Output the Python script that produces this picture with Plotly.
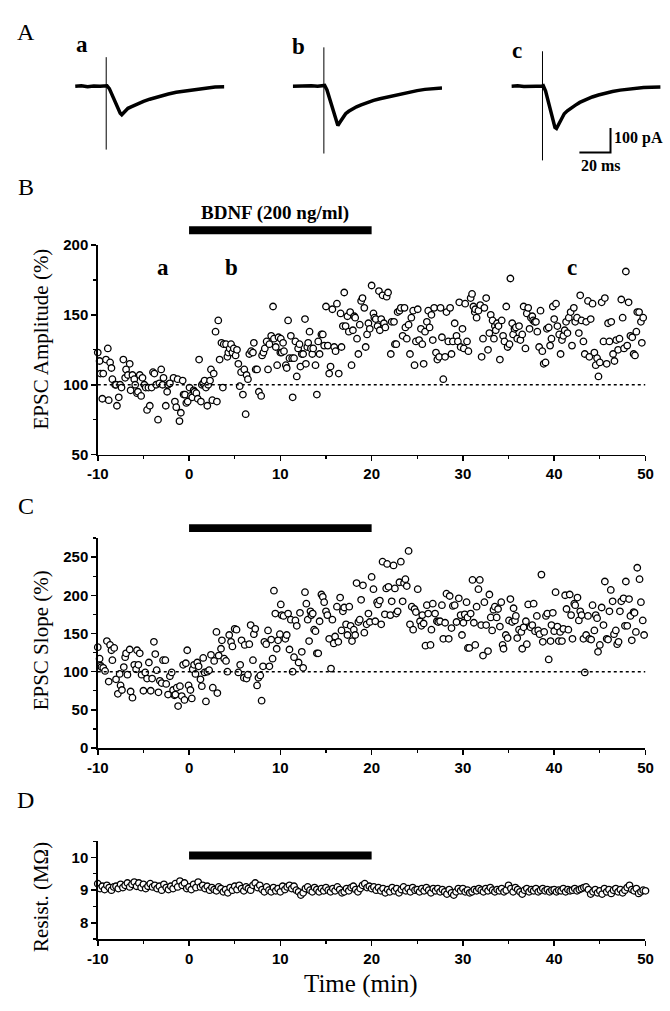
import plotly.graph_objects as go

# ---------------- DATA ----------------
# Panel A: EPSC traces (time in ms, current in pA)
trace_t = [0, 4, 8, 12, 16, 19.5, 20.5, 22, 24, 26, 28, 29, 30, 32, 34, 36, 38, 41, 44, 48,
           52, 56, 60, 65, 70, 75, 80, 85, 90, 96]
trace_a = [0, 2, -2, 1, 0, 0, 2, -10, -40, -72, -100, -110, -116, -102, -90, -84, -78, -70, -62, -53,
           -45, -38, -32, -25, -20, -15, -10, -6, -3, -2]
trace_b = [0, 1, -1, 2, 0, 0, 3, -15, -55, -100, -145, -160, -150, -128, -112, -102, -94, -84, -76, -66,
           -58, -51, -45, -37, -30, -24, -18, -13, -9, -7]
trace_c = [0, 2, -1, 1, 0, 0, 2, -20, -70, -125, -168, -172, -160, -130, -112, -100, -90, -78, -66, -54,
           -44, -36, -29, -22, -16, -12, -8, -5, -4, -3]
stim_t = 20
artifact_a = [118, -258]
artifact_b = [158, -274]
artifact_c = [142, -302]
scale_ms = 20
scale_pa = 100
scale_t0 = 43.75
scale_i0 = -270

# Panel B: EPSC amplitude (%)
time_b = [
    -10, -9.8, -9.7, -9.5, -9.4, -9.1, -8.9, -8.8, -8.65, -8.5,
    -8.4, -8.1, -8.0, -7.9, -7.7, -7.55, -7.4, -7.2, -7.0, -6.9,
    -6.7, -6.5, -6.4, -6.2, -6.0, -5.9, -5.7, -5.6, -5.4, -5.25,
    -5.1, -4.9, -4.75, -4.6, -4.45, -4.3, -4.1, -3.95, -3.8, -3.6,
    -3.4, -3.25, -3.05, -2.9, -2.8, -2.55, -2.4, -2.3, -2.1, -1.7,
    -1.55, -1.4, -1.25, -1.05, -0.9, -0.7, -0.6, -0.45, -0.3, -0.15,
    0.05, 0.2, 0.35, 0.5, 0.6, 0.8, 0.95, 1.1, 1.3, 1.4,
    1.55, 1.7, 1.85, 2.0, 2.1, 2.3, 2.4, 2.55, 2.7, 2.9,
    3.05, 3.2, 3.35, 3.55, 3.7, 3.8, 4.05, 4.2, 4.3, 4.45,
    4.6, 4.75, 4.9, 5.1, 5.25, 5.4, 5.55, 5.7, 5.9, 6.05,
    6.2, 6.3, 6.45, 6.6, 6.8, 7.0, 7.1, 7.3, 7.45, 7.65,
    7.9, 8.0, 8.15, 8.3, 8.5, 8.65, 8.8, 9.0, 9.2, 9.3,
    9.5, 9.65, 9.8, 10.0,
    10.05, 10.15, 10.3, 10.4, 10.6, 10.7, 10.85, 11.0, 11.15, 11.3,
    11.35, 11.5, 11.65, 11.8, 11.95, 12.1, 12.2, 12.35, 12.5, 12.7,
    12.8, 12.95, 13.05, 13.2, 13.35, 13.5, 13.6, 13.85, 14.0, 14.15,
    14.3, 14.5, 14.65, 14.8, 15.0, 15.2, 15.35, 15.5, 15.7, 15.9,
    16.05, 16.2, 16.4, 16.6, 16.7, 16.85, 17.0, 17.15, 17.35, 17.5,
    17.65, 17.8, 17.95, 18.1, 18.2, 18.4, 18.55, 18.7, 18.85, 19.0,
    19.2, 19.35, 19.5, 19.65, 19.8, 20.0, 20.2, 20.3, 20.45, 20.65,
    20.8, 20.9, 21.05, 21.2, 21.35, 21.5, 21.65, 21.8, 22.1, 22.2,
    22.45, 22.55, 22.7, 22.85, 23.05, 23.2, 23.4, 23.6, 23.7, 23.85,
    24.05, 24.2, 24.35, 24.55, 24.7, 24.85, 25.05, 25.2, 25.4, 25.55,
    25.7, 25.85, 26.05, 26.2, 26.35, 26.55, 26.7, 26.85, 27.05, 27.2,
    27.4, 27.55, 27.7, 27.85, 28.05, 28.2, 28.4, 28.6, 28.75, 28.9,
    29.1, 29.3, 29.45, 29.6, 29.75, 29.95, 30.1, 30.25, 30.45, 30.6,
    30.85, 31.0, 31.15, 31.3, 31.35, 31.5, 31.7, 31.9, 32.05, 32.2,
    32.35, 32.55, 32.75, 32.9, 33.05, 33.25, 33.4, 33.5, 33.6, 33.75,
    33.9, 34.05, 34.25, 34.4, 34.55, 34.75, 34.9, 35.1, 35.2, 35.4,
    35.5, 35.65, 35.8, 35.95, 36.15, 36.3, 36.5, 36.65, 36.85, 37.0,
    37.15, 37.3, 37.45, 37.6, 37.7, 37.85, 38.0, 38.15, 38.35, 38.5,
    38.7, 38.85, 39.05, 39.2, 39.4, 39.55, 39.7, 39.85, 40.0, 40.2,
    40.35, 40.55, 40.7, 40.85, 41.0, 41.15, 41.3, 41.45, 41.6, 41.8,
    41.95, 42.15, 42.3, 42.5, 42.7, 42.85, 43.0, 43.2, 43.35, 43.5,
    43.7, 43.85, 44.0, 44.2, 44.4, 44.55, 44.7, 44.85, 45.0, 45.2,
    45.4, 45.55, 45.75, 45.9, 46.05, 46.25, 46.45, 46.6, 46.8, 47.0,
    47.15, 47.35, 47.5, 47.65, 47.85, 48.0, 48.15, 48.35, 48.55, 48.7,
    48.85, 49.0, 49.1, 49.3, 49.5, 49.6, 49.75,
]
amp_b = [
    123, 117, 108, 90, 108, 118, 126, 89, 116, 112,
    104, 100, 100, 85, 91, 100, 98, 118, 105, 111,
    107, 115, 96, 107, 104, 100, 94, 95, 107, 92,
    105, 100, 98, 82, 98, 85, 98, 109, 108, 100,
    75, 101, 111, 100, 105, 85, 95, 100, 101, 105,
    88, 84, 104, 74, 80, 103, 93, 93, 87, 88,
    98, 92, 91, 96, 95, 94, 90, 118, 88, 100,
    101, 103, 98, 85, 100, 103, 111, 89, 108, 138,
    88, 146, 118, 130, 98, 129, 129, 120, 123, 126,
    129, 123, 126, 121, 125, 115, 99, 109, 93, 111,
    79, 107, 104, 122, 124, 123, 130, 111, 111, 95,
    92, 121, 123, 126, 131, 111, 129, 135, 156, 133,
    127, 114, 134, 123,
    133, 123, 130, 124, 114, 112, 146, 119, 135, 119,
    91, 119, 131, 106, 126, 129, 113, 122, 122, 147,
    115, 127, 130, 138, 126, 122, 126, 114, 93, 131,
    122, 136, 136, 128, 156, 128, 108, 113, 154, 127,
    124, 158, 108, 151, 127, 142, 166, 142, 149, 138,
    152, 114, 139, 149, 148, 133, 122, 143, 160, 162,
    155, 127, 136, 144, 140, 171, 151, 148, 147, 142,
    167, 139, 147, 164, 144, 141, 163, 166, 122, 145,
    145, 129, 129, 152, 153, 155, 135, 155, 141, 133,
    143, 122, 148, 153, 114, 131, 154, 132, 140, 129,
    115, 138, 145, 153, 141, 150, 132, 155, 123, 118,
    120, 155, 134, 104, 120, 152, 131, 155, 122, 131,
    144, 135, 131, 159, 127, 140, 126, 158, 131, 124,
    162, 165, 156, 152, 154, 148, 153, 157, 120, 133,
    155, 162, 125, 137, 150, 146, 133, 142, 139, 144,
    142, 118, 146, 135, 131, 156, 127, 129, 176, 144,
    136, 140, 141, 133, 142, 132, 136, 156, 126, 151,
    155, 140, 148, 149, 146, 145, 145, 138, 127, 153,
    124, 115, 116, 140, 141, 128, 133, 156, 147, 158,
    142, 136, 122, 132, 135, 139, 145, 137, 148, 152,
    128, 155, 145, 148, 137, 164, 146, 131, 122, 145,
    160, 120, 147, 158, 123, 114, 119, 106, 116, 159,
    131, 162, 115, 144, 131, 145, 122, 117, 132, 125,
    133, 161, 148, 126, 181, 128, 159, 135, 134, 122,
    121, 138, 152, 152, 145, 130, 148,
]

# Panel C: EPSC slope (%)
time_c = [
    -10, -9.8, -9.7, -9.6, -9.4, -9.2, -9.0, -8.8, -8.65, -8.5,
    -8.4, -8.2, -8.0, -7.8, -7.6, -7.5, -7.35, -7.15, -7.0, -6.9,
    -6.75, -6.5, -6.4, -6.2, -6.0, -5.8, -5.7, -5.55, -5.4, -5.2,
    -5.0, -4.8, -4.6, -4.4, -4.2, -4.05, -3.85, -3.7, -3.55, -3.35,
    -3.2, -3.0, -2.85, -2.6, -2.5, -2.3, -2.1, -1.9, -1.75, -1.6,
    -1.5, -1.35, -1.2, -1.0, -0.8, -0.65, -0.5, -0.35, -0.2, -0.05,
    0.15, 0.3, 0.4, 0.55, 0.7, 0.9, 1.05, 1.25, 1.4, 1.55,
    1.7, 1.85, 2.0, 2.2, 2.4, 2.6, 2.75, 3.0, 3.1, 3.25,
    3.5, 3.6, 3.85, 4.05, 4.2, 4.4, 4.6, 4.75, 5.0, 5.2,
    5.4, 5.6, 5.75, 6.0, 6.1, 6.3, 6.45, 6.6, 6.75, 7.0,
    7.1, 7.25, 7.45, 7.6, 7.8, 7.95, 8.1, 8.25, 8.45, 8.65,
    8.8, 9.0, 9.15, 9.3, 9.45, 9.6, 9.75, 9.95, 10.05, 10.15,
    10.35, 10.55, 10.7, 10.85, 11.0, 11.15, 11.35, 11.5, 11.65, 11.8,
    12.0, 12.15, 12.35, 12.5, 12.7, 12.85, 13.0, 13.15, 13.3, 13.4,
    13.55, 13.7, 13.85, 14.0, 14.15, 14.3, 14.5, 14.65, 14.8, 15.0,
    15.15, 15.35, 15.55, 15.7, 15.85, 16.0, 16.2, 16.35, 16.55, 16.7,
    16.85, 17.0, 17.2, 17.35, 17.55, 17.7, 17.85, 18.05, 18.2, 18.35,
    18.55, 18.7, 18.85, 19.05, 19.2, 19.45, 19.65, 19.8, 20.0, 20.2,
    20.4, 20.6, 20.7, 20.9, 21.05, 21.2, 21.45, 21.6, 21.7, 21.85,
    22.05, 22.2, 22.4, 22.55, 22.7, 22.85, 23.05, 23.2, 23.4, 23.55,
    23.7, 23.85, 24.05, 24.2, 24.4, 24.55, 24.7, 24.85, 25.05, 25.3,
    25.45, 25.55, 25.7, 25.9, 26.05, 26.2, 26.45, 26.55, 26.7, 26.95,
    27.15, 27.3, 27.5, 27.7, 27.85, 28.05, 28.2, 28.45, 28.55, 28.75,
    28.9, 29.1, 29.3, 29.55, 29.75, 29.9, 30.05, 30.2, 30.4, 30.5,
    30.55,
    30.7, 30.85, 31.05, 31.2, 31.35, 31.5, 31.7, 31.85, 32.0, 32.2,
    32.35, 32.55, 32.75, 32.9, 33.05, 33.2, 33.35, 33.5, 33.7, 33.85,
    34.05, 34.2, 34.35, 34.45, 34.7, 34.9, 35.05, 35.2, 35.4, 35.55,
    35.7, 35.8, 35.95, 36.15, 36.4, 36.5, 36.65, 36.9, 37.0, 37.15,
    37.4, 37.6, 37.75, 37.9, 38.1, 38.25, 38.4, 38.6, 38.75, 38.9,
    39.1, 39.25, 39.4, 39.6, 39.7, 39.85, 40.0, 40.15, 40.35, 40.5,
    40.65, 40.85, 41.0, 41.2, 41.35, 41.55, 41.7, 41.85, 42.0, 42.2,
    42.3, 42.55, 42.7, 42.85, 43.0, 43.2, 43.35, 43.5, 43.7, 43.85,
    44.05, 44.2, 44.4, 44.55, 44.7, 44.8, 45.0, 45.2, 45.4, 45.55,
    45.75, 45.9, 46.05, 46.2, 46.4, 46.55, 46.75, 46.9, 47.05, 47.2,
    47.35, 47.6, 47.75, 47.85, 48.0, 48.2, 48.35, 48.5, 48.7, 48.8,
    48.95, 49.1, 49.35, 49.5, 49.7, 49.85,
]
slope_c = [
    132, 117, 108, 106, 105, 101, 140, 87, 135, 128,
    115, 131, 90, 71, 97, 82, 76, 106, 119, 124,
    96, 129, 74, 66, 109, 103, 128, 109, 124, 96,
    75, 99, 91, 112, 75, 91, 139, 123, 102, 73,
    88, 85, 115, 115, 84, 70, 94, 99, 76, 69,
    70, 79, 55, 81, 68, 109, 63, 111, 128, 82,
    76, 65, 103, 109, 97, 112, 107, 90, 81, 118,
    99, 61, 100, 102, 122, 79, 114, 152, 72, 121,
    130, 141, 117, 114, 100, 148, 139, 133, 156, 155,
    99, 109, 141, 92, 135, 91, 96, 136, 161, 115,
    149, 156, 82, 92, 95, 62, 107, 139, 136, 154,
    107, 142, 117, 206, 176, 130, 141, 149, 188, 174,
    173, 143, 148, 176, 129, 168, 100, 119, 167, 160,
    112, 177, 126, 105, 204, 189, 168, 140, 179, 174,
    176, 155, 153, 124, 124, 166, 201, 198, 191, 179,
    174, 143, 104, 168, 137, 146, 185, 139, 197, 154,
    179, 184, 162, 148, 185, 160, 140, 155, 148, 216,
    165, 168, 194, 213, 151, 162, 176, 165, 224, 208,
    166, 191, 188, 193, 162, 244, 175, 209, 241, 211,
    174, 192, 239, 209, 176, 179, 217, 244, 192, 216,
    221, 212, 258, 162, 185, 155, 182, 178, 208, 166,
    160, 174, 163, 134, 187, 176, 135, 155, 189, 176,
    166, 165, 166, 187, 143, 164, 202, 143, 199, 157,
    186, 187, 165, 196, 174, 148, 164, 175, 191, 171,
    131,
    131, 176, 220, 164, 135, 185, 208, 220, 161, 121,
    191, 161, 127, 201, 171, 154, 181, 185, 171, 182,
    159, 191, 135, 130, 148, 144, 167, 195, 165, 183,
    167, 173, 144, 155, 152, 130, 158, 166, 136, 188,
    158, 161, 189, 153, 173, 154, 149, 227, 139, 152,
    173, 176, 116, 140, 161, 177, 153, 204, 159, 140,
    152, 140, 156, 200, 182, 155, 201, 174, 143, 189,
    187, 197, 167, 179, 174, 143, 99, 148, 173, 143,
    142, 187, 154, 174, 170, 126, 135, 184, 161, 218,
    143, 142, 179, 207, 192, 149, 154, 136, 139, 179,
    192, 196, 160, 218, 160, 195, 173, 141, 178, 177,
    152, 236, 221, 191, 167, 148,
]

# Panel D: series resistance (MOhm)
time_d = [
    -10, -9.75, -9.5, -9.25, -9, -8.75, -8.5, -8.25,
    -8, -7.75, -7.5, -7.25, -7, -6.75, -6.5, -6.25,
    -6, -5.75, -5.5, -5.25, -5, -4.75, -4.5, -4.25,
    -4, -3.75, -3.5, -3.25, -3, -2.75, -2.5, -2.25,
    -2, -1.75, -1.5, -1.25, -1, -0.75, -0.5, -0.25,
    0, 0.25, 0.5, 0.75, 1, 1.25, 1.5, 1.75,
    2, 2.25, 2.5, 2.75, 3, 3.25, 3.5, 3.75,
    4, 4.25, 4.5, 4.75, 5, 5.25, 5.5, 5.75,
    6, 6.25, 6.5, 6.75, 7, 7.25, 7.5, 7.75,
    8, 8.25, 8.5, 8.75, 9, 9.25, 9.5, 9.75,
    10, 10.25, 10.5, 10.75, 11, 11.25, 11.5, 11.75,
    12, 12.25, 12.5, 12.75, 13, 13.25, 13.5, 13.75,
    14, 14.25, 14.5, 14.75, 15, 15.25, 15.5, 15.75,
    16, 16.25, 16.5, 16.75, 17, 17.25, 17.5, 17.75,
    18, 18.25, 18.5, 18.75, 19, 19.25, 19.5, 19.75,
    20, 20.25, 20.5, 20.75, 21, 21.25, 21.5, 21.75,
    22, 22.25, 22.5, 22.75, 23, 23.25, 23.5, 23.75,
    24, 24.25, 24.5, 24.75, 25, 25.25, 25.5, 25.75,
    26, 26.25, 26.5, 26.75, 27, 27.25, 27.5, 27.75,
    28, 28.25, 28.5, 28.75, 29, 29.25, 29.5, 29.75,
    30, 30.25, 30.5, 30.75, 31, 31.25, 31.5, 31.75,
    32, 32.25, 32.5, 32.75, 33, 33.25, 33.5, 33.75,
    34, 34.25, 34.5, 34.75, 35, 35.25, 35.5, 35.75,
    36, 36.25, 36.5, 36.75, 37, 37.25, 37.5, 37.75,
    38, 38.25, 38.5, 38.75, 39, 39.25, 39.5, 39.75,
    40, 40.25, 40.5, 40.75, 41, 41.25, 41.5, 41.75,
    42, 42.25, 42.5, 42.75, 43, 43.25, 43.5, 43.75,
    44, 44.25, 44.5, 44.75, 45, 45.25, 45.5, 45.75,
    46, 46.25, 46.5, 46.75, 47, 47.25, 47.5, 47.75,
    48, 48.25, 48.5, 48.75, 49, 49.25, 49.5, 49.75,
    50,
]
resist_d = [
    9.20, 9.05, 9.12, 9.02, 9.15, 9.08, 9.00, 9.10,
    9.12, 9.05, 9.18, 9.08, 9.15, 9.22, 9.10, 9.18,
    9.25, 9.12, 9.22, 9.08, 9.18, 9.05, 9.12, 9.20,
    9.10, 9.15, 9.05, 9.12, 9.00, 9.18, 9.08, 9.02,
    9.12, 9.05, 9.20, 9.10, 9.28, 9.15, 9.22, 9.05,
    9.10, 9.02, 9.18, 9.08, 9.25, 9.10, 9.15, 9.05,
    9.12, 9.00, 9.08, 9.02, 8.98, 9.10, 9.05, 8.95,
    9.02, 8.92, 9.08, 9.00, 9.12, 9.02, 9.15, 9.05,
    8.98, 9.10, 9.05, 9.00, 9.15, 9.22, 9.08, 9.15,
    9.02, 8.95, 9.10, 9.00, 8.95, 9.08, 8.98, 9.05,
    8.95, 9.12, 9.02, 9.10, 9.15, 9.05, 9.12, 9.00,
    8.95, 8.85, 8.92, 9.05, 9.10, 9.00, 8.95, 9.08,
    9.02, 8.95, 9.05, 8.98, 9.08, 9.00, 8.95, 9.05,
    8.98, 9.10, 9.02, 8.92, 8.95, 9.05, 8.98, 9.08,
    9.12, 9.02, 8.95, 9.05, 9.15, 9.20, 9.08, 9.12,
    9.05, 9.10, 9.00, 9.08, 8.98, 9.05, 8.92, 9.02,
    8.95, 9.08, 8.98, 9.05, 8.92, 9.02, 9.10, 8.98,
    9.05, 8.95, 9.08, 9.00, 9.02, 8.95, 9.05, 8.98,
    9.08, 9.00, 8.92, 9.05, 8.98, 9.05, 8.95, 9.02,
    8.95, 8.88, 9.02, 8.92, 8.85, 8.95, 9.05, 8.98,
    9.05, 8.95, 9.00, 8.92, 8.95, 9.02, 8.98, 9.05,
    9.00, 8.95, 9.05, 8.98, 9.08, 9.00, 8.95, 9.02,
    8.98, 9.05, 8.95, 9.00, 9.15, 9.05, 8.95, 9.08,
    9.02, 8.95, 8.88, 9.00, 9.05, 8.95, 9.02, 8.98,
    9.05, 8.95, 9.00, 9.05, 8.98, 9.02, 8.95, 9.00,
    9.02, 8.95, 9.00, 8.98, 9.05, 8.95, 9.02, 8.98,
    9.00, 9.05, 8.98, 9.02, 9.05, 9.08, 9.10, 9.02,
    8.88, 8.95, 9.02, 8.92, 8.98, 8.88, 9.05, 8.95,
    9.02, 8.90, 9.00, 9.05, 8.95, 9.02, 8.92, 9.00,
    9.08, 9.15, 9.02, 8.98, 9.05, 8.90, 8.95, 9.00,
    8.98,
]

time_range = [-10, 50]
time_ticks = [-10, 0, 10, 20, 30, 40, 50]
baseline_pct = 100
bdnf_start, bdnf_end = 0, 20
bdnf_label = "BDNF (200 ng/ml)"
sample_labels = ["a", "b", "c"]
sample_times = [-2.8, 4.6, 41.9]
sample_label_level = 184

# ---------------- LAYOUT HELPERS ----------------
W, H = 670, 1011
SERIF = "Liberation Serif, Times New Roman, serif"
SANS = "Liberation Sans, Arial, sans-serif"
TICKFONT = dict(family=SANS, size=15, color="black", weight="bold")


def px(p):
    return p / W


def py(p):
    return 1 - p / H


def tick_text(vals):
    return [("-" + str(abs(v))) if v < 0 else str(v) for v in vals]


def time_axis(anchor):
    return dict(
        domain=[px(89.3), px(653)], anchor=anchor, range=time_range,
        tickmode="array", tickvals=time_ticks, ticktext=tick_text(time_ticks),
        showline=True, linecolor="black", linewidth=1.5,
        ticks="outside", ticklen=5, tickwidth=1.5, tickcolor="black",
        minor=dict(dtick=5, tick0=0, ticks="outside", ticklen=3, tickwidth=1.2,
                   tickcolor="black", showgrid=False),
        showgrid=False, zeroline=False, tickfont=TICKFONT,
    )


def val_axis(anchor, dom, rng, dtick, minor_dtick, tick0):
    return dict(
        domain=dom, anchor=anchor, range=rng, dtick=dtick, tick0=tick0,
        showline=True, linecolor="black", linewidth=1.5,
        ticks="outside", ticklen=5, tickwidth=1.5, tickcolor="black",
        minor=dict(dtick=minor_dtick, tick0=tick0, ticks="outside", ticklen=3,
                   tickwidth=1.2, tickcolor="black", showgrid=False),
        showgrid=False, zeroline=False, tickfont=TICKFONT,
    )


def hidden_axis(dom, anchor, rng):
    return dict(domain=dom, anchor=anchor, range=rng, visible=False,
                showgrid=False, zeroline=False, fixedrange=True)


fig = go.Figure()

marker_style = dict(symbol="circle", size=6.5, color="white",
                    line=dict(color="black", width=1.3))

# Panel A traces
for xa, ya, tr, art in [("x4", "y4", trace_a, artifact_a),
                        ("x5", "y5", trace_b, artifact_b),
                        ("x6", "y6", trace_c, artifact_c)]:
    fig.add_trace(go.Scatter(x=trace_t, y=tr, mode="lines", xaxis=xa, yaxis=ya,
                             line=dict(color="black", width=3.5), hoverinfo="skip"))
    fig.add_trace(go.Scatter(x=[stim_t, stim_t], y=art, mode="lines", xaxis=xa, yaxis=ya,
                             line=dict(color="black", width=1), hoverinfo="skip"))
# scale bar
fig.add_trace(go.Scatter(
    x=[scale_t0, scale_t0 + scale_ms, scale_t0 + scale_ms],
    y=[scale_i0, scale_i0, scale_i0 + scale_pa],
    mode="lines", xaxis="x6", yaxis="y6", line=dict(color="black", width=2),
    hoverinfo="skip"))

# Panel B, C, D scatter
fig.add_trace(go.Scatter(x=time_b, y=amp_b, mode="markers", marker=marker_style,
                         xaxis="x", yaxis="y", cliponaxis=False))
fig.add_trace(go.Scatter(x=time_c, y=slope_c, mode="markers", marker=marker_style,
                         xaxis="x2", yaxis="y2", cliponaxis=False))
fig.add_trace(go.Scatter(x=time_d, y=resist_d, mode="markers", marker=marker_style,
                         xaxis="x3", yaxis="y3", cliponaxis=False))

trace_dom_y = [py(160), py(30)]
trace_rng_y = [-326, 194]

fig.update_layout(
    width=W, height=H, margin=dict(l=0, r=0, t=0, b=0),
    paper_bgcolor="white", plot_bgcolor="white", showlegend=False,
    xaxis=time_axis("y"),
    yaxis=val_axis("x", [py(453.3), py(240)], [50, 200], 50, 25, 0),
    xaxis2=time_axis("y2"),
    yaxis2=val_axis("x2", [py(751.7), py(538)], [0, 275], 50, 25, 0),
    xaxis3=time_axis("y3"),
    yaxis3=val_axis("x3", [py(946), py(846.5)], [7.5, 10.5], 1, 0.5, 8),
    xaxis4=hidden_axis([px(66), px(219.6)], "y4", [0, 96]),
    yaxis4=hidden_axis(trace_dom_y, "x4", trace_rng_y),
    xaxis5=hidden_axis([px(290), px(443.6)], "y5", [0, 96]),
    yaxis5=hidden_axis(trace_dom_y, "x5", trace_rng_y),
    xaxis6=hidden_axis([px(515), px(668.6)], "y6", [0, 96]),
    yaxis6=hidden_axis(trace_dom_y, "x6", trace_rng_y),
)

shapes = []
# dotted 100% lines
for xr, yr in [("x", "y"), ("x2", "y2")]:
    shapes.append(dict(type="line", xref=xr, yref=yr, x0=time_range[0], x1=time_range[1],
                       y0=baseline_pct, y1=baseline_pct,
                       line=dict(color="black", width=1.5, dash="dot")))
# BDNF bars
for xr, top, bot in [("x", 221, 229), ("x2", 524, 532), ("x3", 857, 865)]:
    shapes.append(dict(type="rect", xref=xr, yref="paper", x0=bdnf_start, x1=bdnf_end,
                       y0=py(bot), y1=py(top), fillcolor="black", line=dict(width=0)))
fig.update_layout(shapes=shapes)

ann = []


def text(x, y, s, size, bold=False, angle=0, xanchor="center", family=SERIF):
    ann.append(dict(x=x, y=y, xref="paper", yref="paper", text=f"<b>{s}</b>" if bold else s,
                    showarrow=False, textangle=angle, xanchor=xanchor, yanchor="middle",
                    font=dict(family=family, size=size, color="black")))


# panel letters
text(px(15), py(23), "A", 24)
text(px(15), py(181), "B", 24)
text(px(15), py(506), "C", 24)
text(px(15), py(805), "D", 24)
# trace labels
text(px(73), py(36), "a", 23, bold=True)
text(px(296), py(38), "b", 23, bold=True)
text(px(521), py(42), "c", 23, bold=True)
# scale labels
text(px(619), py(131), f"{scale_pa} pA", 16, bold=True, xanchor="left")
text(px(585), py(159), f"{scale_ms} ms", 16, bold=True, xanchor="left")
# BDNF label
text(px(272), py(207), bdnf_label, 19, bold=True)
# axis titles
text(px(31), py(336), "EPSC Amplitude (%)", 21, angle=-90)
text(px(31), py(642), "EPSC Slope (%)", 21, angle=-90)
text(px(31), py(903), "Resist. (MΩ)", 21, angle=-90)
text(px(360), py(992), "Time (min)", 25)

# sample labels in panel B (data coords)
for lab, t in zip(sample_labels, sample_times):
    ann.append(dict(x=t, y=sample_label_level, xref="x", yref="y", text=f"<b>{lab}</b>",
                    showarrow=False, font=dict(family=SERIF, size=23, color="black")))

fig.update_layout(annotations=ann)

fig.write_html("out.html", config={"displayModeBar": False, "staticPlot": True},
               post_script="document.body.style.margin='0';document.body.style.padding='0';")
